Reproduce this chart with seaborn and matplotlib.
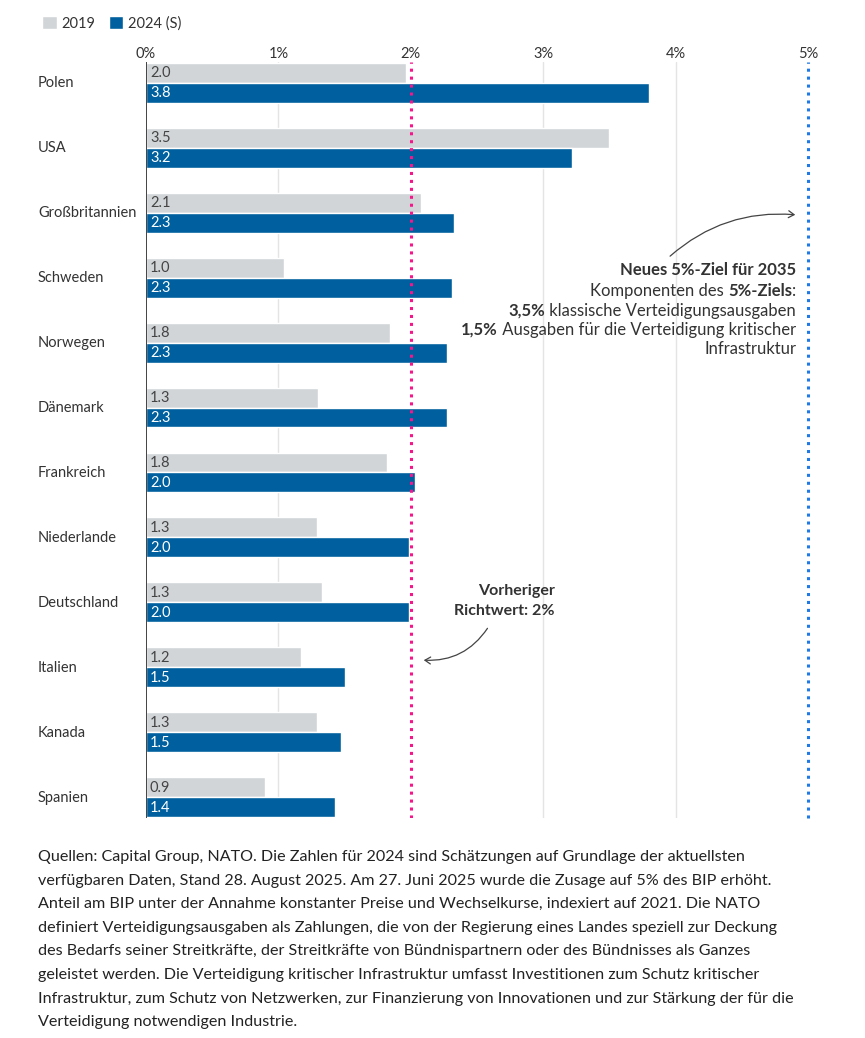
import pandas as pd
import seaborn as sns
import matplotlib.pyplot as plt
import matplotlib.transforms as mtransforms
from matplotlib.patches import Patch, FancyArrowPatch

# values (share of GDP, %)
countries = ["Polen", "USA", "Großbritannien", "Schweden", "Norwegen", "Dänemark",
             "Frankreich", "Niederlande", "Deutschland", "Italien", "Kanada", "Spanien"]
values_2019 = [1.96, 3.50, 2.08, 1.04, 1.84, 1.30, 1.82, 1.29, 1.33, 1.17, 1.29, 0.90]
values_2024 = [3.80, 3.22, 2.33, 2.31, 2.27, 2.27, 2.03, 1.99, 1.99, 1.50, 1.47, 1.43]
series = ["2019", "2024 (S)"]
tick_values = [0, 1, 2, 3, 4, 5]
tick_labels = ["0%", "1%", "2%", "3%", "4%", "5%"]
old_target = 2
new_target = 5

GREY = "#d1d5d8"
BLUE = "#005f9e"
PINK = "#f5168c"
DOT_BLUE = "#1f7ae6"
TEXT = "#333333"

sns.set_theme(style="white")
plt.rcParams["font.family"] = ["Lato", "DejaVu Sans"]

df = pd.DataFrame({
    "Land": countries * 2,
    "Wert": values_2019 + values_2024,
    "Jahr": [series[0]] * len(countries) + [series[1]] * len(countries),
})

fig = plt.figure(figsize=(8.65, 10.38), dpi=100)
ax = fig.add_axes([146 / 865, 1 - 818 / 1038, (808 - 146) / 865, (818 - 62) / 1038])

sns.barplot(data=df, y="Land", x="Wert", hue="Jahr", orient="h",
            palette=[GREY, BLUE], width=0.615, gap=0, ax=ax, legend=False,
            saturation=1, errorbar=None)

ax.set_xlim(0, 5)
ax.set_ylim(len(countries) - 1 + 0.32, -0.32)

# grid + reference lines
for t in tick_values[1:5]:
    if t != old_target:
        ax.axvline(t, color="#e4e4e4", lw=1, zorder=0)
ax.axvline(0, color="#222222", lw=1.2, zorder=3)
ax.axvline(old_target, color=PINK, lw=2.2, ls=(0, (1, 1.6)), zorder=4)
ax.axvline(new_target, color=DOT_BLUE, lw=2.2, ls=(0, (1, 1.6)), zorder=4, clip_on=False)

for s in ax.spines.values():
    s.set_visible(False)
ax.set_xlabel("")
ax.set_ylabel("")
ax.xaxis.tick_top()
ax.set_xticks(tick_values)
ax.set_xticklabels(tick_labels, fontsize=10.5, color=TEXT)
ax.tick_params(axis="x", length=0, pad=1)
ax.set_yticks([])

# country labels on the far left
trans = mtransforms.blended_transform_factory(fig.transFigure, ax.transData)
for i, c in enumerate(countries):
    ax.text(38 / 865, i + 0.01, c, transform=trans, ha="left", va="center",
            fontsize=10.5, color=TEXT)

# value labels at the start of each bar
for container, col in zip(ax.containers, ["#444444", "white"]):
    for bar in container:
        val = bar.get_width()
        ax.text(0.03, bar.get_y() + bar.get_height() / 2 + 0.01, f"{val:.1f}",
                ha="left", va="center", fontsize=10.5, color=col, zorder=5)

# legend
handles = [Patch(facecolor=GREY, label=series[0]), Patch(facecolor=BLUE, label=series[1])]
fig.legend(handles=handles, loc="upper left", bbox_to_anchor=(29 / 865, 1 - 3 / 1038),
           ncol=2, frameon=False, fontsize=10.5, handlelength=1.0, handleheight=1.0,
           handletextpad=0.35, columnspacing=0.9, labelcolor=TEXT)


# right aligned text built from bold / regular pieces
def rich_line(x, y, pieces, size=12):
    renderer = fig.canvas.get_renderer()
    inv = fig.transFigure.inverted()
    cur = x
    for text, weight in reversed(pieces):
        t = fig.text(cur, y, text, ha="right", va="center", fontsize=size,
                     fontweight=weight, color=TEXT)
        bb = t.get_window_extent(renderer)
        cur = inv.transform((bb.x0, bb.y0))[0]


xr = 796 / 865
lines = [
    (270, [("Neues 5%-Ziel für 2035", "bold")]),
    (291, [("Komponenten des ", "normal"), ("5%-Ziels", "bold"), (":", "normal")]),
    (311, [("3,5%", "bold"), (" klassische Verteidigungsausgaben", "normal")]),
    (330, [("1,5%", "bold"), (" Ausgaben für die Verteidigung kritischer", "normal")]),
    (349, [("Infrastruktur", "normal")]),
]
for ypx, pieces in lines:
    rich_line(xr, 1 - ypx / 1038, pieces)

fig.text(555 / 865, 1 - 591 / 1038, "Vorheriger", ha="right", va="center",
         fontsize=11.5, fontweight="bold", color=TEXT)
fig.text(555 / 865, 1 - 611 / 1038, "Richtwert: 2%", ha="right", va="center",
         fontsize=11.5, fontweight="bold", color=TEXT)

fig.add_artist(FancyArrowPatch(
    (668 / 865, 1 - 258 / 1038), (798 / 865, 1 - 215 / 1038),
    transform=fig.transFigure, connectionstyle="arc3,rad=-0.22",
    arrowstyle="->,head_length=4,head_width=2.5", color="#444444", lw=0.9))
fig.add_artist(FancyArrowPatch(
    (489 / 865, 1 - 626 / 1038), (421 / 865, 1 - 660 / 1038),
    transform=fig.transFigure, connectionstyle="arc3,rad=-0.3",
    arrowstyle="->,head_length=4,head_width=2.5", color="#444444", lw=0.9))

# footnote
note_lines = [
    "Quellen: Capital Group, NATO. Die Zahlen für 2024 sind Schätzungen auf Grundlage der aktuellsten",
    "verfügbaren Daten, Stand 28. August 2025. Am 27. Juni 2025 wurde die Zusage auf 5% des BIP erhöht.",
    "Anteil am BIP unter der Annahme konstanter Preise und Wechselkurse, indexiert auf 2021. Die NATO",
    "definiert Verteidigungsausgaben als Zahlungen, die von der Regierung eines Landes speziell zur Deckung",
    "des Bedarfs seiner Streitkräfte, der Streitkräfte von Bündnispartnern oder des Bündnisses als Ganzes",
    "geleistet werden. Die Verteidigung kritischer Infrastruktur umfasst Investitionen zum Schutz kritischer",
    "Infrastruktur, zum Schutz von Netzwerken, zur Finanzierung von Innovationen und zur Stärkung der für die",
    "Verteidigung notwendigen Industrie.",
]
for i, line in enumerate(note_lines):
    fig.text(38 / 865, 1 - (857 + i * 23.6) / 1038, line, ha="left", va="center",
             fontsize=11.6, color="#222222")

fig.savefig("out.png", dpi=100)
